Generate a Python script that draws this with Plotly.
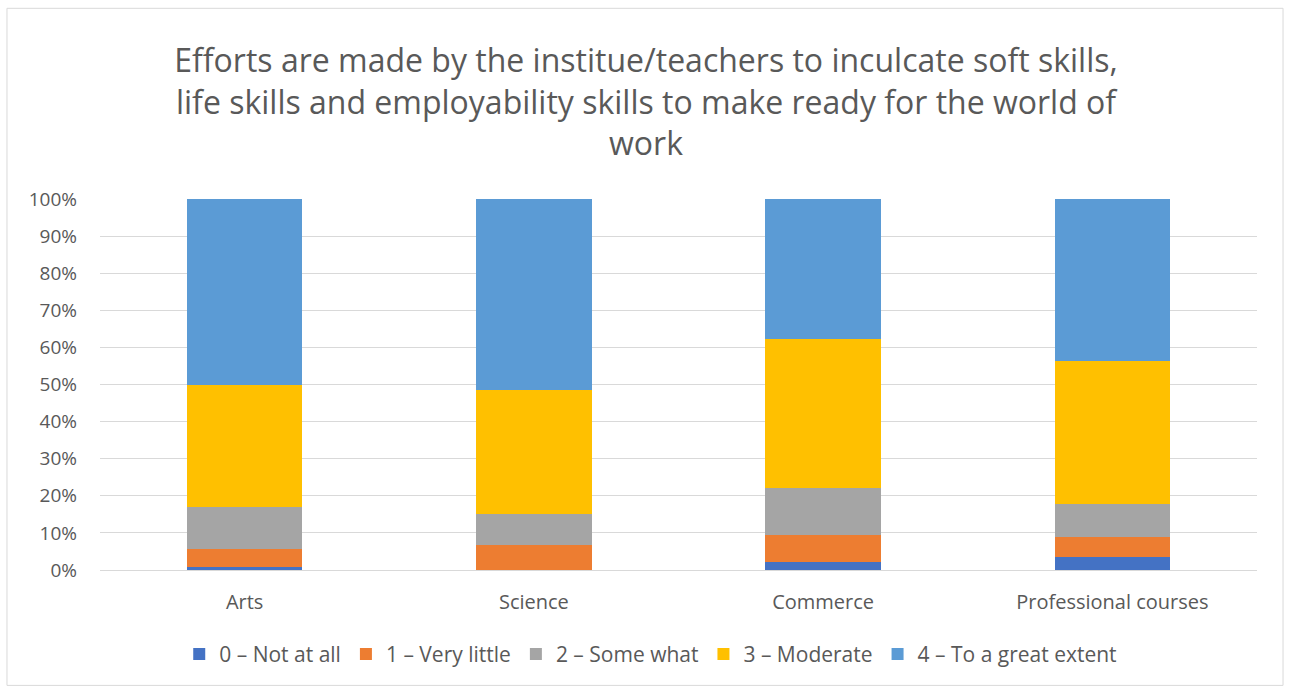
import plotly.graph_objects as go

categories = ["Arts", "Science", "Commerce", "Professional courses"]
series_names = ["0 – Not at all", "1 – Very little", "2 – Some what", "3 – Moderate", "4 – To a great extent"]
not_at_all = [0.8, 0.0, 2.1, 3.6]
very_little = [4.9, 6.8, 7.4, 5.3]
some_what = [11.2, 8.2, 12.5, 8.8]
moderate = [33.1, 33.4, 40.4, 38.6]
great_extent = [50.0, 51.6, 37.6, 43.7]
colors = ["#4472C4", "#ED7D31", "#A5A5A5", "#FFC000", "#5B9BD5"]

tick_vals = [0, 10, 20, 30, 40, 50, 60, 70, 80, 90, 100]
tick_text = [f"{v}%" for v in tick_vals]

fig = go.Figure()
for name, vals, col in zip(series_names, [not_at_all, very_little, some_what, moderate, great_extent], colors):
    fig.add_trace(go.Bar(x=categories, y=vals, name=name, marker=dict(color=col, line=dict(width=0)), width=0.4))

font_family = "'Open Sans', Lato, sans-serif"
fig.update_layout(
    barmode="stack",
    width=1290, height=688,
    paper_bgcolor="white", plot_bgcolor="white",
    margin=dict(l=100, r=33, t=199, b=118),
    font=dict(family=font_family, color="#595959", size=18),
    title=dict(
        text="Efforts are made by the institue/teachers to inculcate soft skills,<br>life skills and employability skills to make ready for the world of<br>work",
        x=0.5008, xanchor="center", xref="container", y=0.895, yanchor="top",
        font=dict(size=32, color="#595959", family=font_family),
    ),
    legend=dict(orientation="h", x=0.476, xanchor="center", y=-0.2275, yanchor="middle",
                font=dict(size=21, color="#595959"), traceorder="normal"),
    xaxis=dict(showgrid=False, showline=True, linecolor="#d9d9d9", linewidth=1, ticks="",
               tickfont=dict(size=20, color="#595959"), ticklabelstandoff=14),
    yaxis=dict(range=[0, 100], tickvals=tick_vals, ticktext=tick_text, showgrid=True,
               gridcolor="#d9d9d9", gridwidth=1, zeroline=False, showline=False,
               tickfont=dict(size=19, color="#595959"), ticklabelstandoff=22),
    shapes=[dict(type="rect", xref="paper", yref="paper",
                 x0=-0.0804, x1=1.0225, y0=-0.311, y1=1.514,
                 line=dict(color="#d9d9d9", width=1), fillcolor="rgba(0,0,0,0)", layer="below")],
)
fig.write_html("out.html", config={"displayModeBar": False},
               post_script="document.body.style.margin='0';document.body.style.overflow='hidden';")
